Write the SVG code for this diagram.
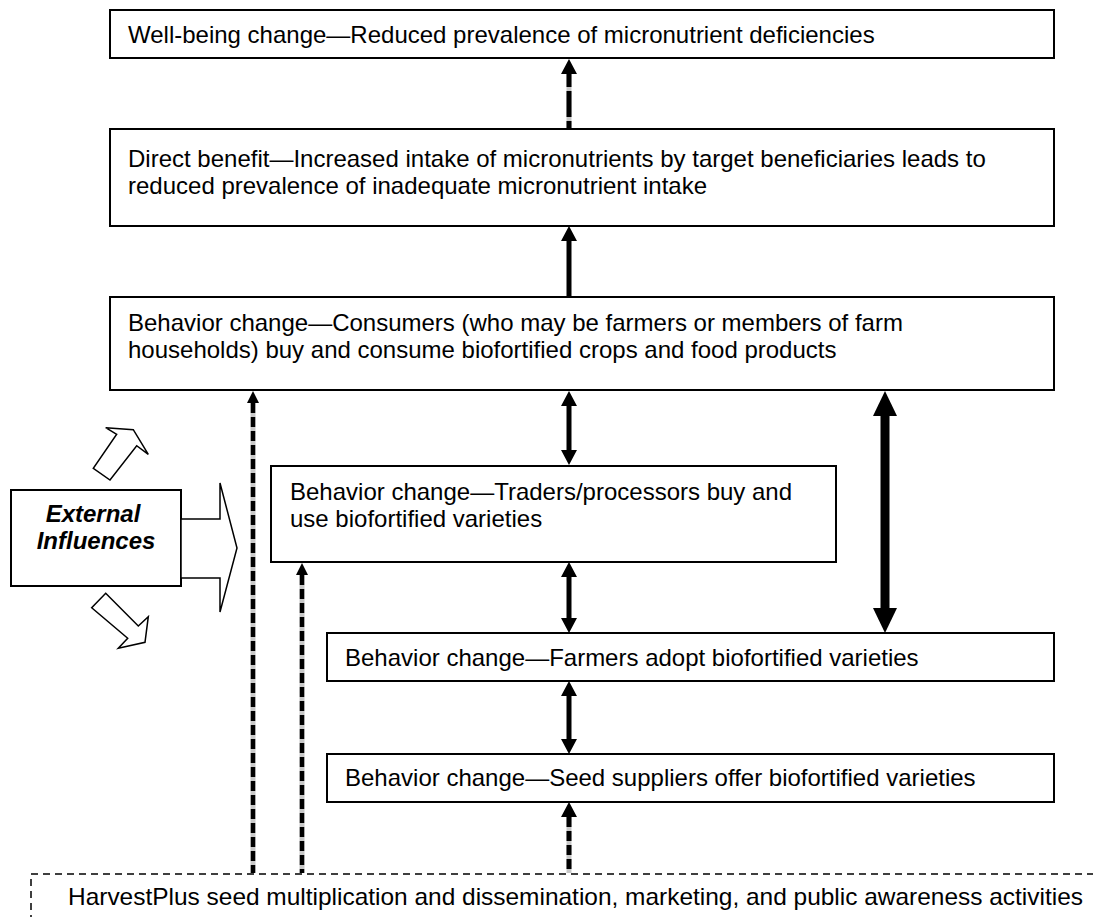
<svg xmlns="http://www.w3.org/2000/svg" width="1093" height="917" viewBox="0 0 1093 917">
<style>
.box{fill:#fff;stroke:#000;stroke-width:2}
.t{font-family:"Liberation Sans",Arial,sans-serif;font-size:24px;fill:#000}
.ext{font-family:"Liberation Sans",Arial,sans-serif;font-size:24px;font-weight:bold;font-style:italic;fill:#000;text-anchor:middle}
.solid{stroke:#000;stroke-width:5;fill:none}
.thick{stroke:#000;stroke-width:9;fill:none}
.halo{stroke:#c8c8c8;stroke-width:5;fill:none}
.dash{stroke:#000;stroke-width:4.5;fill:none;stroke-dasharray:10 4}
.block{fill:#fff;stroke:#000;stroke-width:1.5;stroke-linejoin:miter}
</style>
<defs>
<marker id="ah" viewBox="0 0 15 16" refX="0" refY="8" markerWidth="15" markerHeight="16" markerUnits="userSpaceOnUse" orient="auto-start-reverse">
<path d="M0,0 L15,8 L0,16 z" fill="#000"/>
</marker>
<marker id="ahT" viewBox="0 0 25 24" refX="0" refY="12" markerWidth="25" markerHeight="24" markerUnits="userSpaceOnUse" orient="auto-start-reverse">
<path d="M0,0 L25,12 L0,24 z" fill="#000"/>
</marker>
<marker id="ahS" viewBox="0 0 12 12" refX="0" refY="6" markerWidth="12" markerHeight="12" markerUnits="userSpaceOnUse" orient="auto-start-reverse">
<path d="M0,0 L12,6 L0,12 z" fill="#000"/>
</marker>
</defs>

<g id="connectors">
<line class="halo" x1="569" y1="74" x2="569" y2="128"/>
<line class="solid" x1="569" y1="74" x2="569" y2="128" stroke-dasharray="13 4 26 4" marker-start="url(#ah)"/>
<line class="solid" x1="569" y1="241" x2="569" y2="297" marker-start="url(#ah)"/>
<line class="solid" x1="569" y1="406" x2="569" y2="450" marker-start="url(#ah)" marker-end="url(#ah)"/>
<line class="solid" x1="569" y1="577" x2="569" y2="618" marker-start="url(#ah)" marker-end="url(#ah)"/>
<line class="solid" x1="569" y1="696" x2="569" y2="739" marker-start="url(#ah)" marker-end="url(#ah)"/>
<line class="halo" x1="569" y1="817" x2="569" y2="873"/>
<line class="solid" x1="569" y1="817" x2="569" y2="873" stroke-dasharray="10 4" marker-start="url(#ah)"/>
<line class="thick" x1="885" y1="416" x2="885" y2="608" marker-start="url(#ahT)" marker-end="url(#ahT)"/>
<line class="halo" x1="253" y1="403" x2="253" y2="873"/>
<line class="dash" x1="253" y1="403" x2="253" y2="873" marker-start="url(#ahS)"/>
<line class="halo" x1="302" y1="575" x2="302" y2="873"/>
<line class="dash" x1="302" y1="575" x2="302" y2="873" marker-start="url(#ahS)"/>
</g>

<g id="wellbeing">
<rect class="box" x="110" y="10" width="944" height="48"/>
<text class="t" x="128" y="43">Well-being change—Reduced prevalence of micronutrient deficiencies</text>
</g>

<g id="direct-benefit">
<rect class="box" x="110" y="129" width="944" height="97"/>
<text class="t" x="128" y="167">Direct benefit—Increased intake of micronutrients by target beneficiaries leads to</text>
<text class="t" x="128" y="194">reduced prevalence of inadequate micronutrient intake</text>
</g>

<g id="consumers">
<rect class="box" x="110" y="297" width="944" height="93"/>
<text class="t" x="128" y="331">Behavior change—Consumers (who may be farmers or members of farm</text>
<text class="t" x="128" y="358">households) buy and consume biofortified crops and food products</text>
</g>

<g id="traders">
<rect class="box" x="271" y="466" width="565" height="96"/>
<text class="t" x="290" y="500">Behavior change—Traders/processors buy and</text>
<text class="t" x="290" y="527">use biofortified varieties</text>
</g>

<g id="farmers">
<rect class="box" x="327" y="633" width="727" height="48"/>
<text class="t" x="345" y="666">Behavior change—Farmers adopt biofortified varieties</text>
</g>

<g id="seed-suppliers">
<rect class="box" x="327" y="754" width="727" height="48"/>
<text class="t" x="345" y="786">Behavior change—Seed suppliers offer biofortified varieties</text>
</g>

<g id="external-influences">
<rect class="box" x="11" y="490" width="170" height="96"/>
<text class="ext" x="93" y="522">External</text>
<text class="ext" x="96" y="549">Influences</text>
<polygon class="block" points="181,519 220,519 220,483 237,548 220,612 220,578 181,578"/>
<polygon class="block" points="116.7,434.3 105.7,427.7 133.3,429.7 148.3,454.3 136.7,445.7 110,480 93.3,468.3"/>
<polygon class="block" points="105.7,593.3 138.3,626 148.3,616.7 145,642.3 118.3,648.3 127.7,638.3 91.7,607.7"/>
</g>

<g id="harvestplus">
<rect x="31" y="874" width="1100" height="100" fill="none" stroke="#000" stroke-width="1.5" stroke-dasharray="7 5"/>
<text class="t" x="68" y="905" textLength="1015" lengthAdjust="spacingAndGlyphs">HarvestPlus seed multiplication and dissemination, marketing, and public awareness activities</text>
</g>
</svg>
